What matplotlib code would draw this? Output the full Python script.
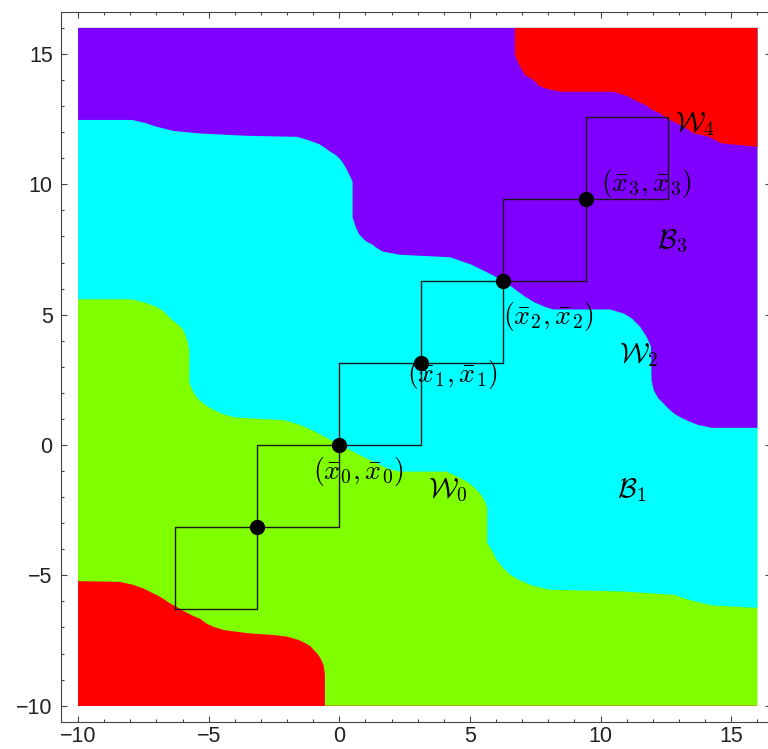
import numpy as np
import matplotlib
matplotlib.use("Agg")
import matplotlib.pyplot as plt
from matplotlib.ticker import MultipleLocator

plt.rcParams['mathtext.fontset'] = 'cm'

# plot square
x_range = [-10, 16]
y_range = [-10, 16]

# region colours, bottom-left to top-right
colors = ['#ff0000', '#80ff00', '#00ffff', '#8000ff', '#ff0000']

# boundaries (x, y), each running left to right
b1_x = [-10, -8.4, -7.9, -7.5, -7.2, -6.9, -6.7, -6.5, -6.2, -5.9, -5.6, -5.3, -5.1,
        -4.8, -4.4, -3.5, -2.5, -2.0, -1.55, -1.3, -1.1, -0.98, -0.85, -0.72, -0.6,
        -0.55, -0.55]
b1_y = [-5.22, -5.25, -5.36, -5.5, -5.65, -5.8, -5.92, -6.06, -6.22, -6.4, -6.55, -6.68,
        -6.84, -6.98, -7.1, -7.22, -7.29, -7.35, -7.48, -7.6, -7.72, -7.86, -7.99, -8.18,
        -8.45, -8.8, -10.0]

b2_x = [-10, -7.95, -7.4, -7.0, -6.75, -6.6, -6.45, -6.3, -6.15, -6.0, -5.9, -5.8, -5.74,
        -5.74, -5.62, -5.5, -5.35, -5.2, -5.0, -4.75, -4.45, -4.0, -3.0, -2.1, -1.6, -1.25,
        -1.0, -0.74, -0.49, -0.23, 0.0, 0.28, 0.54, 0.79, 1.05, 1.43, 1.81, 2.3, 4.1, 4.49,
        4.88, 5.13, 5.38, 5.55, 5.66, 5.66, 5.83, 6.02, 6.28, 6.53, 6.92, 7.4, 8.05, 10.9,
        12.85, 13.24, 13.73, 14.26, 16]
b2_y = [5.59, 5.59, 5.45, 5.3, 5.15, 5.0, 4.85, 4.72, 4.6, 4.45, 4.25, 3.95, 3.6,
        2.4, 2.1, 1.9, 1.72, 1.6, 1.45, 1.32, 1.18, 1.06, 1.0, 0.95, 0.8, 0.66,
        0.55, 0.41, 0.28, 0.14, 0.0, -0.13, -0.26, -0.39, -0.52, -0.7, -0.89, -1.02, -1.02, -1.2,
        -1.4, -1.6, -1.85, -2.1, -2.4, -3.75, -4.03, -4.4, -4.73, -4.97, -5.2, -5.4, -5.55, -5.62,
        -5.75, -5.9, -6.03, -6.15, -6.25]

b3_x = [-10, -7.93, -7.41, -7.03, -6.36, -5.33, -3.5, -1.6, -1.15, -0.78, -0.55, -0.39,
        -0.13, 0.0, 0.12, 0.26, 0.37, 0.51, 0.51, 0.64, 0.75, 0.89, 1.02, 1.28, 1.4, 1.66,
        2.32, 4.26, 4.65, 5.03, 5.3, 5.58, 5.9, 6.28, 6.6, 6.85, 7.11, 7.49, 7.87, 8.19,
        10.36, 10.87, 11.19, 11.51, 11.76, 11.93, 11.95, 12.04, 12.2, 12.31, 12.44, 12.57,
        12.7, 12.85, 13.08, 13.35, 13.73, 14.26, 16]
b3_y = [12.47, 12.47, 12.35, 12.22, 12.05, 11.95, 11.86, 11.82, 11.68, 11.55, 11.4, 11.28,
        11.12, 11.0, 10.85, 10.62, 10.4, 10.1, 8.72, 8.34, 8.1, 7.94, 7.82, 7.68, 7.58, 7.42,
        7.3, 7.2, 7.06, 6.93, 6.8, 6.66, 6.5, 6.28, 6.07, 5.88, 5.69, 5.46, 5.3, 5.2,
        5.2, 5.05, 4.86, 4.54, 4.15, 3.77, 2.47, 2.08, 1.8, 1.69, 1.56, 1.42,
        1.3, 1.18, 1.05, 0.92, 0.77, 0.66, 0.66]

b4_x = [6.72, 6.72, 6.88, 6.98, 7.11, 7.39, 7.52, 7.64, 8.03, 8.5, 10.49, 11.0, 11.25,
        11.51, 11.79, 11.92, 12.27, 12.53, 12.91, 13.27, 13.55, 14.12, 14.63, 16]
b4_y = [16, 14.96, 14.58, 14.41, 14.19, 14.03, 13.91, 13.77, 13.64, 13.55, 13.55, 13.39,
        13.26, 13.13, 13.0, 12.88, 12.72, 12.53, 12.34, 12.15, 11.96, 11.83, 11.57, 11.44]

# fixed points (k*pi, k*pi) and the squares between them
fixed = [-np.pi, 0.0, np.pi, 2 * np.pi, 3 * np.pi]
square_lo = [-2 * np.pi, -np.pi, 0.0, np.pi, 2 * np.pi, 3 * np.pi]
side = np.pi

# labels: text, x (left edge), y (centre)
labels = [
    (r'$\mathcal{W}_4$', 12.85, 12.3),
    (r'$(\bar{x}_3,\bar{x}_3)$', 10.0, 10.05),
    (r'$\mathcal{B}_3$', 12.15, 7.83),
    (r'$(\bar{x}_2,\bar{x}_2)$', 6.28, 4.93),
    (r'$\mathcal{W}_2$', 10.7, 3.45),
    (r'$(\bar{x}_1,\bar{x}_1)$', 2.6, 2.72),
    (r'$(\bar{x}_0,\bar{x}_0)$', -1.02, -1.02),
    (r'$\mathcal{W}_0$', 3.41, -1.73),
    (r'$\mathcal{B}_1$', 10.63, -1.73),
]


def region(bx, by):
    # area above a boundary, up to the top edge of the plot square
    px = list(bx) + [x_range[1], x_range[1], bx[0]]
    py = list(by) + [by[-1], y_range[1], y_range[1]]
    return px, py


fig = plt.figure(figsize=(7.68, 7.49), dpi=100)
ax = fig.add_axes([61 / 768, 27 / 749, 710 / 768, 710 / 749])

ax.fill([x_range[0], x_range[1], x_range[1], x_range[0]],
        [y_range[0], y_range[0], y_range[1], y_range[1]],
        color=colors[0], lw=0, zorder=1)
for c, (bx, by) in zip(colors[1:], [(b1_x, b1_y), (b2_x, b2_y), (b3_x, b3_y), (b4_x, b4_y)]):
    px, py = region(bx, by)
    ax.fill(px, py, color=c, lw=0, zorder=1)

for lo in square_lo:
    ax.plot([lo, lo + side, lo + side, lo, lo], [lo, lo, lo + side, lo + side, lo],
            color='#1a1a1a', lw=1.0, zorder=2)
ax.plot(fixed, fixed, 'o', color='black', ms=10, zorder=3)

for t, x, y in labels:
    ax.text(x, y, t, fontsize=20, ha='left', va='center', zorder=4)

ax.set_xlim(-10.65, 16.52)
ax.set_ylim(-10.625, 16.61)
ax.xaxis.set_major_locator(MultipleLocator(5))
ax.yaxis.set_major_locator(MultipleLocator(5))
ax.xaxis.set_minor_locator(MultipleLocator(1))
ax.yaxis.set_minor_locator(MultipleLocator(1))
ax.tick_params(which='both', direction='in', top=True, right=True,
               color='#444444', width=0.8, labelsize=15.5, labelcolor='#222222', pad=6)
ax.tick_params(axis='x', which='both', pad=3)
ax.tick_params(which='major', length=4.2)
ax.tick_params(which='minor', length=2.2)
for lab in ax.get_xticklabels() + ax.get_yticklabels():
    lab.set_family('Liberation Sans')
for s in ax.spines.values():
    s.set_color('#444444')
    s.set_linewidth(0.8)

fig.savefig('out.png', dpi=100)
